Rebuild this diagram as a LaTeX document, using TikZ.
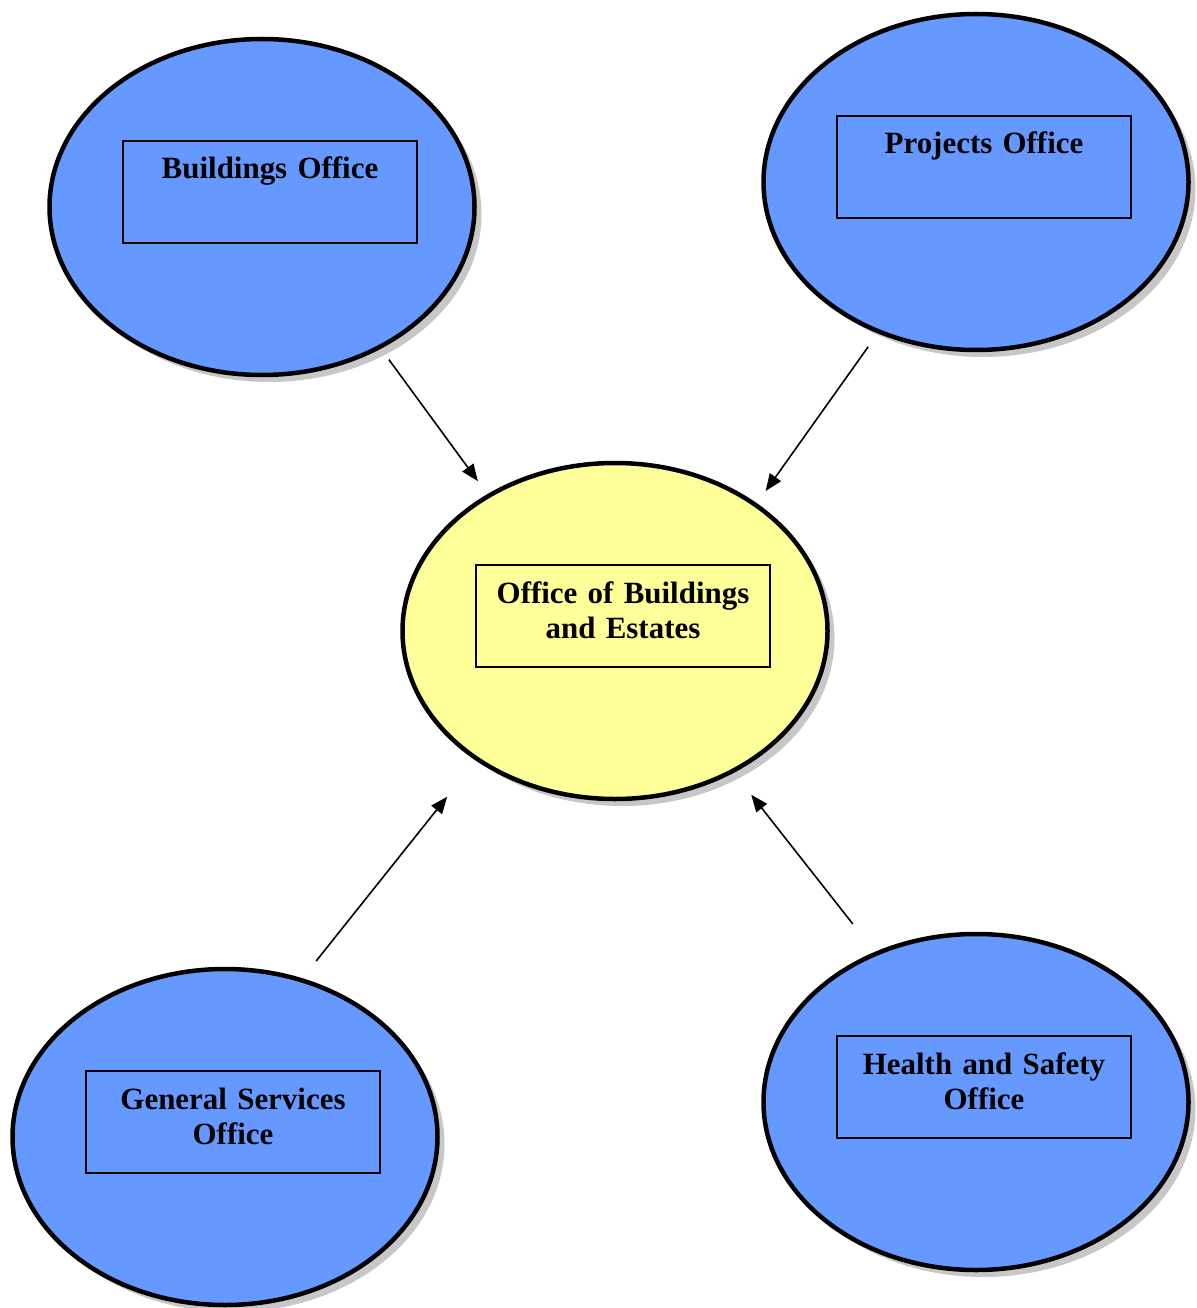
\documentclass[tikz,border=0pt]{standalone}
\usepackage{fontspec}
\setmainfont{Liberation Serif}
\usetikzlibrary{shapes.geometric,shadows,arrows.meta}
\definecolor{officeblue}{HTML}{6699FF}
\definecolor{estateyellow}{HTML}{FFFF99}
\tikzset{
>={Triangle[length=0.34cm,width=0.27cm]},
  officenode/.style={
    ellipse,
    draw=black, line width=0.09cm,
    minimum width=8.5cm,
    minimum height=6.72cm,
    drop shadow={shadow xshift=0.14cm, shadow yshift=-0.14cm, fill=black!22, opacity=1}},
  titlebox/.style={
    rectangle,
    draw=black, line width=0.03cm,
    inner sep=0pt,
    text width=5.88cm,
    align=center,
    text height=0.76cm,
    text depth=1.28cm,
    font=\fontsize{17.6pt}{20.3pt}\selectfont\bfseries,
    xshift=0.16cm, yshift=0.3cm},
  link/.style={->, line width=0.032cm},
}
\begin{document}
\begin{tikzpicture}
\useasboundingbox (0,0) rectangle (23.94,-26.16);

%Nodes
\node[officenode, fill=officeblue]   (buildings) at (5.24,-4.14)   {};
\node[officenode, fill=officeblue]   (projects)  at (19.52,-3.64)  {};
\node[officenode, fill=estateyellow] (estates)   at (12.30,-12.62) {};
\node[officenode, fill=officeblue]   (general)   at (4.50,-22.74)  {};
\node[officenode, fill=officeblue]   (safety)    at (19.52,-22.04) {};

\node[titlebox] (buildings-box) at (buildings) {Buildings Office};
\node[titlebox] (projects-box)  at (projects)  {Projects Office};
\node[titlebox] (estates-box)   at (estates)   {Office of Buildings\\and Estates};
\node[titlebox] (general-box)   at (general)   {General Services\\Office};
\node[titlebox] (safety-box)    at (safety)    {Health and Safety\\Office};

%Lines
\draw[link, shorten <=0.27cm, shorten >=0.32cm] (buildings.-50.2) -- (estates.133.9);
\draw[link, shorten <=0.33cm, shorten >=0.30cm] (projects.-123.9) -- (estates.42.6);
\draw[link, shorten <=0.44cm, shorten >=0.92cm] (general.64.6) -- (estates.-137.8);
\draw[link, shorten <=0.71cm, shorten >=0.56cm] (safety.124.6) -- (estates.-50.6);

\end{tikzpicture}
\end{document}
